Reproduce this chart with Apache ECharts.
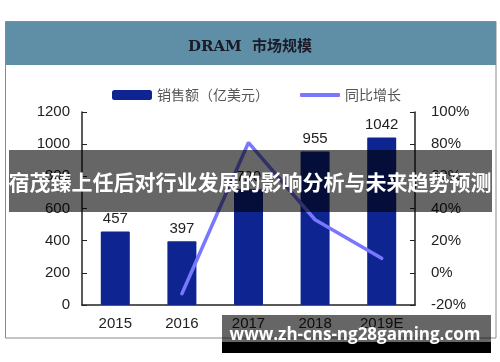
<!DOCTYPE html>
<html>
<head>
<meta charset="utf-8">
<script src="https://cdn.jsdelivr.net/npm/echarts@6/dist/echarts.min.js"></script>
<style>html,body{margin:0;padding:0;background:#fff;}#c{width:500px;height:362px;}</style>
</head>
<body>
<div id="c"></div>
<script>
const years = ['2015', '2016', '2017', '2018', '2019E'];
const sales = [457, 397, 720, 955, 1042];
const growth = [null, -13, 81, 33, 9];
const leftTicks = { min: 0, max: 1200, interval: 200 };
const rightTicks = { min: -20, max: 100, interval: 20 };
const titleText = 'DRAM  市场规模';
const salesName = '销售额（亿美元）';
const growthName = '同比增长';
const bannerText = '宿茂臻上任后对行业发展的影响分析与未来趋势预测';
const watermarkText = 'www.zh-cns-ng28gaming.com';

const chart = echarts.init(document.getElementById('c'), null, { renderer: 'canvas' });
const axisColor = '#222';
const numFont = '"Liberation Sans", Arial, sans-serif';

chart.setOption({
  animation: false,
  backgroundColor: '#fff',
  title: {
    text: titleText,
    left: 'center',
    top: 35,
    textStyle: { fontFamily: '"DejaVu Serif", "Noto Sans CJK SC", serif', fontSize: 15, fontWeight: 'bold', color: '#1b1b28' },
    z: 10
  },
  legend: [
    {
      data: [{ name: salesName, icon: 'roundRect' }],
      left: 107, top: 83, itemWidth: 40, itemHeight: 10, itemGap: 4,
      textStyle: { fontFamily: '"Noto Sans CJK SC", sans-serif', fontSize: 14, color: '#555' }
    },
    {
      data: [{ name: growthName, icon: 'roundRect' }],
      left: 295, top: 83, itemWidth: 40, itemHeight: 4, itemGap: 4,
      textStyle: { fontFamily: '"Noto Sans CJK SC", sans-serif', fontSize: 14, color: '#555' }
    }
  ],
  grid: { left: 82, right: 85, top: 112, bottom: 57 },
  xAxis: {
    type: 'category',
    data: years,
    axisLine: { lineStyle: { color: axisColor, width: 1.5 } },
    axisTick: { inside: true, length: 5, lineStyle: { color: axisColor } },
    axisLabel: { fontFamily: numFont, fontSize: 15, color: axisColor, margin: 11 }
  },
  yAxis: [
    {
      type: 'value', min: leftTicks.min, max: leftTicks.max, interval: leftTicks.interval,
      splitLine: { show: false },
      axisLine: { show: true, lineStyle: { color: axisColor, width: 1.5 } },
      axisTick: { show: true, inside: true, length: 5, lineStyle: { color: axisColor } },
      axisLabel: { fontFamily: numFont, fontSize: 15, color: axisColor, margin: 12, formatter: function (v) { return String(v); } }
    },
    {
      type: 'value', min: rightTicks.min, max: rightTicks.max, interval: rightTicks.interval,
      position: 'right',
      splitLine: { show: false },
      axisLine: { show: true, lineStyle: { color: axisColor, width: 1.5 } },
      axisTick: { show: true, inside: true, length: 5, lineStyle: { color: axisColor } },
      axisLabel: { fontFamily: numFont, fontSize: 15, color: axisColor, margin: 16, formatter: '{value}%' }
    }
  ],
  series: [
    {
      name: salesName,
      type: 'bar',
      data: sales,
      barWidth: 29,
      itemStyle: { color: '#0E2490', borderRadius: 1 },
      label: { show: true, position: 'top', distance: 5, fontFamily: numFont, fontSize: 15, color: axisColor }
    },
    {
      name: growthName,
      type: 'line',
      yAxisIndex: 1,
      data: growth,
      showSymbol: false,
      symbol: 'none',
      lineStyle: { color: '#7878FF', width: 3.5, cap: 'round' },
      itemStyle: { color: '#7878FF' }
    }
  ],
  graphic: [
    { type: 'rect', z: -10, shape: { x: 5.5, y: 21.5, width: 490.5, height: 316.5 }, style: { fill: '#fff', stroke: '#8a8a8a', lineWidth: 1 } },
    { type: 'rect', z: -5, shape: { x: 6, y: 22, width: 490, height: 43 }, style: { fill: '#5E8FA6' } },
    { type: 'rect', z: 100, shape: { x: 9, y: 150, width: 483, height: 62 }, style: { fill: 'rgba(0,0,0,0.6)' } },
    { type: 'text', z: 101, x: 250, y: 182, style: { text: bannerText, fill: '#fff', font: 'bold 21px "Noto Sans CJK SC", sans-serif', textAlign: 'center', textVerticalAlign: 'middle' } },
    { type: 'rect', z: 100, shape: { x: 222, y: 315, width: 269, height: 27 }, style: { fill: 'rgba(0,0,0,0.6)' } },
    { type: 'rect', z: 100, shape: { x: 222, y: 342, width: 269, height: 11 }, style: { fill: '#000' } },
    { type: 'text', z: 101, x: 355, y: 335, style: { text: watermarkText, fill: '#fff', font: 'bold 17px "Open Sans", "Noto Sans", sans-serif', textAlign: 'center', textVerticalAlign: 'middle' } }
  ]
});
</script>
</body>
</html>
